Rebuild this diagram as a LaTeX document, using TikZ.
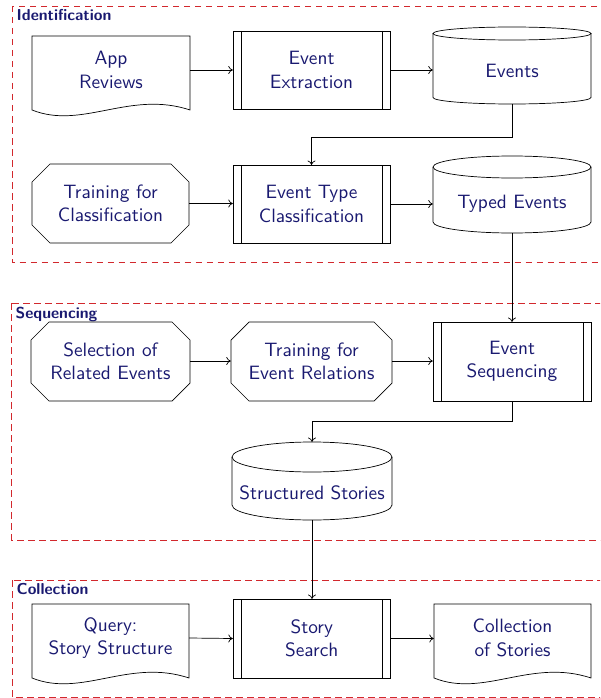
\documentclass[tikz,border=0pt]{standalone}
\usepackage{fontspec}
\setsansfont{lmsans10}[Extension=.otf, UprightFont=*-regular, BoldFont=*-bold]
\usetikzlibrary{arrows.meta,calc}
\definecolor{navy}{RGB}{25,25,112}
\definecolor{framered}{RGB}{210,40,45}
\tikzset{
  box/.style={draw=none, minimum width=#1, minimum height=20pt, inner sep=0pt, align=center, text=navy, font=\sffamily\fontsize{19.3}{23.3}\selectfont},
  shp/.style={draw=black, line width=0.7pt, line join=miter},
  arr/.style={draw=black, line width=0.7pt, -{To[length=4.5pt,width=8pt]}},
  frame/.style={draw=framered, line width=0.7pt, dash pattern=on 6.5pt off 4.5pt},
  ttl/.style={anchor=base west, inner sep=0pt, text=navy, font=\sffamily\bfseries\fontsize{15.8}{18}\selectfont},
}
% #1 name, #2 half width, #3 top offset, #4 bottom offset
\newcommand\docout[4]{%
  \draw[shp] ([shift={(-#2,#3)}]#1.center) -- ([shift={(#2,#3)}]#1.center) -- ([shift={(#2,#4)}]#1.center)
    .. controls ([shift={(#2-60,#4-20)}]#1.center) and ([shift={(-#2+50,#4+20)}]#1.center) .. ([shift={(-#2,#4)}]#1.center) -- cycle;
  \coordinate (#1-top) at ([shift={(0,#3)}]#1.center);
  \coordinate (#1-bot) at ([shift={(0,#4)}]#1.center);}
\newcommand\procout[4]{%
  \draw[shp] ([shift={(-#2,#3)}]#1.center) rectangle ([shift={(#2,#4)}]#1.center);
  \draw[shp] ([shift={(-#2+8,#3)}]#1.center) -- ([shift={(-#2+8,#4)}]#1.center);
  \draw[shp] ([shift={(#2-8,#3)}]#1.center) -- ([shift={(#2-8,#4)}]#1.center);
  \coordinate (#1-top) at ([shift={(0,#3)}]#1.center);
  \coordinate (#1-bot) at ([shift={(0,#4)}]#1.center);}
% #5 chamfer
\newcommand\octout[5]{%
  \draw[shp] ([shift={(-#2+#5,#3)}]#1.center) -- ([shift={(#2-#5,#3)}]#1.center) -- ([shift={(#2,#3+#5)}]#1.center)
    -- ([shift={(#2,#4-#5)}]#1.center) -- ([shift={(#2-#5,#4)}]#1.center) -- ([shift={(-#2+#5,#4)}]#1.center)
    -- ([shift={(-#2,#4-#5)}]#1.center) -- ([shift={(-#2,#3+#5)}]#1.center) -- cycle;
  \coordinate (#1-top) at ([shift={(0,#3)}]#1.center);
  \coordinate (#1-bot) at ([shift={(0,#4)}]#1.center);}
% #1 name, #2 half width, #3 top offset, #4 ry, #5 bottom offset
\newcommand\cylout[5]{%
  \draw[shp] ([shift={(0,#3+#4)}]#1.center) ellipse [x radius=#2pt, y radius=#4pt];
  \draw[shp] ([shift={(-#2,#3+#4)}]#1.center) -- ([shift={(-#2,#5-#4)}]#1.center)
    arc [start angle=180, end angle=360, x radius=#2pt, y radius=#4pt] -- ([shift={(#2,#3+#4)}]#1.center);
  \coordinate (#1-top) at ([shift={(0,#3)}]#1.center);
  \coordinate (#1-bot) at ([shift={(0,#5)}]#1.center);}
\begin{document}
\begin{tikzpicture}[x=1pt,y=-1pt]
\useasboundingbox (0,0) rectangle (600,698);
\clip (0,0) rectangle (600,698);
% frames
\draw[frame] (12.3,6) rectangle (620,262.7);
\draw[frame] (11.7,303.3) rectangle (620,540);
\draw[frame] (12.3,580) rectangle (620,697);
\node[ttl] (t1) at (16.5,20.3) {Identification};
\node[ttl] (t2) at (15.5,318.3) {Sequencing};
\node[ttl] (t3) at (16.5,594.5) {Collection};
% row 1
\node[box=158pt] (rev) at (111,70) {App\\Reviews};
\docout{rev}{79}{-34}{40}
\node[box=157pt] (ext) at (311.5,70) {Event\\Extraction};
\procout{ext}{78.5}{-39}{39}
\node[box=158pt] (ev) at (512,71) {Events};
\cylout{ev}{79}{-44}{6.5}{33}
% row 2
\node[box=157pt] (tfc) at (110.5,203.5) {Training for\\Classification};
\octout{tfc}{78.5}{-39.5}{39.5}{18}
\node[box=157pt] (etc) at (311.5,204) {Event Type\\Classification};
\procout{etc}{78.5}{-39}{39}
\node[box=158pt] (tev) at (512,203.5) {Typed Events};
\cylout{tev}{79}{-47.5}{11}{29.5}
% row 3
\node[box=159pt] (sel) at (110.5,361) {Selection of\\Related Events};
\octout{sel}{79.5}{-39}{40}{18}
\node[box=161pt] (ter) at (311.5,361) {Training for\\Event Relations};
\octout{ter}{80.5}{-39}{40}{18}
\node[box=158pt] (seq) at (512,361) {Event\\Sequencing};
\procout{seq}{79}{-39}{40}
\node[box=160pt] (ss) at (312,492.5) {Structured Stories};
\cylout{ss}{80}{-50.5}{15}{27.5}
% row 4
\node[box=157pt] (qry) at (110.5,638) {Query:\\Story Structure};
\docout{qry}{78.5}{-34}{40}
\node[box=157.5pt] (srch) at (311.75,638.5) {Story\\Search};
\procout{srch}{78.75}{-39.5}{39.5}
\node[box=157pt] (col) at (512.5,638) {Collection\\of Stories};
\docout{col}{78.5}{-34}{40}
% connectors
\draw[arr] (rev.east) -- (ext.west);
\draw[arr] (ext.east) -- (ext.east -| ev.west);
\draw[arr] (ev-bot) -- ++(0,33) -| (etc-top);
\draw[arr] (tfc.east) -- (tfc.east -| etc.west);
\draw[arr] (etc.east) -- (etc.east -| tev.west);
\draw[arr] (tev-bot) -- (seq-top);
\draw[arr] (sel.east) -- (ter.west);
\draw[arr] (ter.east) -- (seq.west);
\draw[arr] (seq-bot) -- ++(0,20) -| (ss-top);
\draw[arr] (ss-bot) -- (ss-bot |- srch-top);
\draw[arr] (qry.east) -- (srch.west);
\draw[arr] (srch.east) -- (srch.east -| col.west);
\end{tikzpicture}
\end{document}
